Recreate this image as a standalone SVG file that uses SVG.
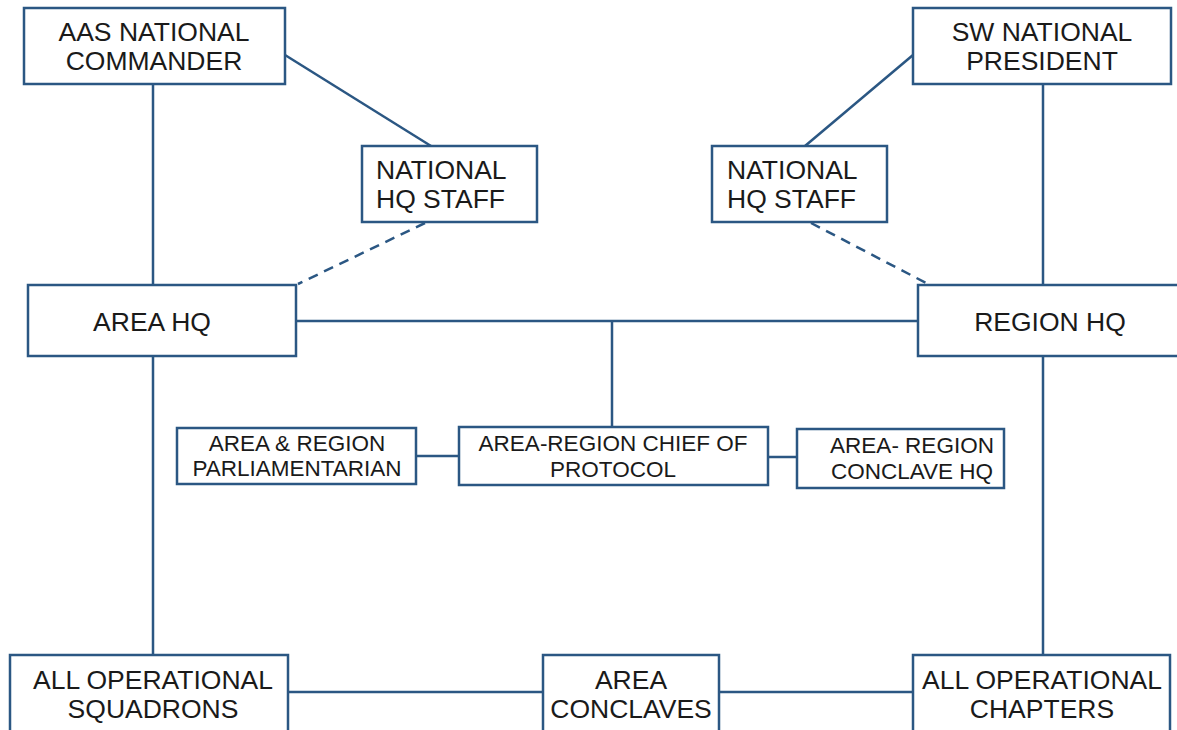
<svg xmlns="http://www.w3.org/2000/svg" width="1177" height="730" viewBox="0 0 1177 730">
<style>
.box{fill:#fff;stroke:#2b5783;stroke-width:2.5}
.ln{fill:none;stroke:#2b5783;stroke-width:2.5}
.dash{fill:none;stroke:#2b5783;stroke-width:2.5;stroke-dasharray:10 7}
.t{font-family:"Liberation Sans",Arial,sans-serif;font-size:26.5px;fill:#1a1a1a;text-anchor:middle}
.tl{font-family:"Liberation Sans",Arial,sans-serif;font-size:26.5px;fill:#1a1a1a}
.s{font-family:"Liberation Sans",Arial,sans-serif;font-size:22.5px;fill:#1a1a1a;text-anchor:middle}
</style>
<rect width="1177" height="730" fill="#fff"/>
<g id="connectors">
<line class="ln" x1="153" y1="84" x2="153" y2="285"/>
<line class="ln" x1="153" y1="356" x2="153" y2="655"/>
<line class="ln" x1="1043" y1="84" x2="1043" y2="285"/>
<line class="ln" x1="1043" y1="356" x2="1043" y2="655"/>
<line class="ln" x1="285" y1="55" x2="431" y2="146"/>
<line class="ln" x1="913" y1="55" x2="805" y2="146"/>
<line class="dash" x1="425" y1="223" x2="298" y2="284"/>
<line class="dash" x1="811" y1="223" x2="930" y2="285"/>
<line class="ln" x1="296" y1="321" x2="918" y2="321"/>
<line class="ln" x1="612" y1="321" x2="612" y2="427"/>
<line class="ln" x1="416" y1="456" x2="459" y2="456"/>
<line class="ln" x1="768" y1="457" x2="797" y2="457"/>
<line class="ln" x1="288" y1="692" x2="543" y2="692"/>
<line class="ln" x1="719" y1="692" x2="913" y2="692"/>
</g>
<g id="aas-commander">
<rect class="box" x="24" y="8" width="261" height="76"/>
<text class="t" x="154" y="41">AAS NATIONAL</text>
<text class="t" x="154" y="70">COMMANDER</text>
</g>
<g id="sw-president">
<rect class="box" x="913" y="8" width="258" height="76"/>
<text class="t" x="1042" y="41">SW NATIONAL</text>
<text class="t" x="1042" y="70">PRESIDENT</text>
</g>
<g id="nhq-staff-left">
<rect class="box" x="362" y="146" width="175" height="76"/>
<text class="tl" x="376" y="179">NATIONAL</text>
<text class="tl" x="376" y="208">HQ STAFF</text>
</g>
<g id="nhq-staff-right">
<rect class="box" x="712" y="146" width="175" height="76"/>
<text class="tl" x="727" y="179">NATIONAL</text>
<text class="tl" x="727" y="208">HQ STAFF</text>
</g>
<g id="area-hq">
<rect class="box" x="28" y="285" width="268" height="71"/>
<text class="t" x="152" y="331">AREA HQ</text>
</g>
<g id="region-hq">
<rect class="box" x="918" y="285" width="262" height="71"/>
<text class="t" x="1050" y="331">REGION HQ</text>
</g>
<g id="parliamentarian">
<rect class="box" x="177" y="428" width="239" height="56"/>
<text class="s" x="297" y="451">AREA &amp; REGION</text>
<text class="s" x="297" y="476">PARLIAMENTARIAN</text>
</g>
<g id="chief-protocol">
<rect class="box" x="459" y="427" width="309" height="58"/>
<text class="s" x="613" y="451">AREA-REGION CHIEF OF</text>
<text class="s" x="613" y="477">PROTOCOL</text>
</g>
<g id="conclave-hq">
<rect class="box" x="797" y="429" width="207" height="59"/>
<text class="s" x="912" y="453">AREA- REGION</text>
<text class="s" x="912" y="479">CONCLAVE HQ</text>
</g>
<g id="squadrons">
<rect class="box" x="10" y="655" width="278" height="85"/>
<text class="t" x="153" y="689">ALL OPERATIONAL</text>
<text class="t" x="153" y="718">SQUADRONS</text>
</g>
<g id="area-conclaves">
<rect class="box" x="543" y="655" width="176" height="85"/>
<text class="t" x="631" y="689">AREA</text>
<text class="t" x="631" y="718">CONCLAVES</text>
</g>
<g id="chapters">
<rect class="box" x="913" y="655" width="257" height="85"/>
<text class="t" x="1042" y="689">ALL OPERATIONAL</text>
<text class="t" x="1042" y="718">CHAPTERS</text>
</g>
</svg>
